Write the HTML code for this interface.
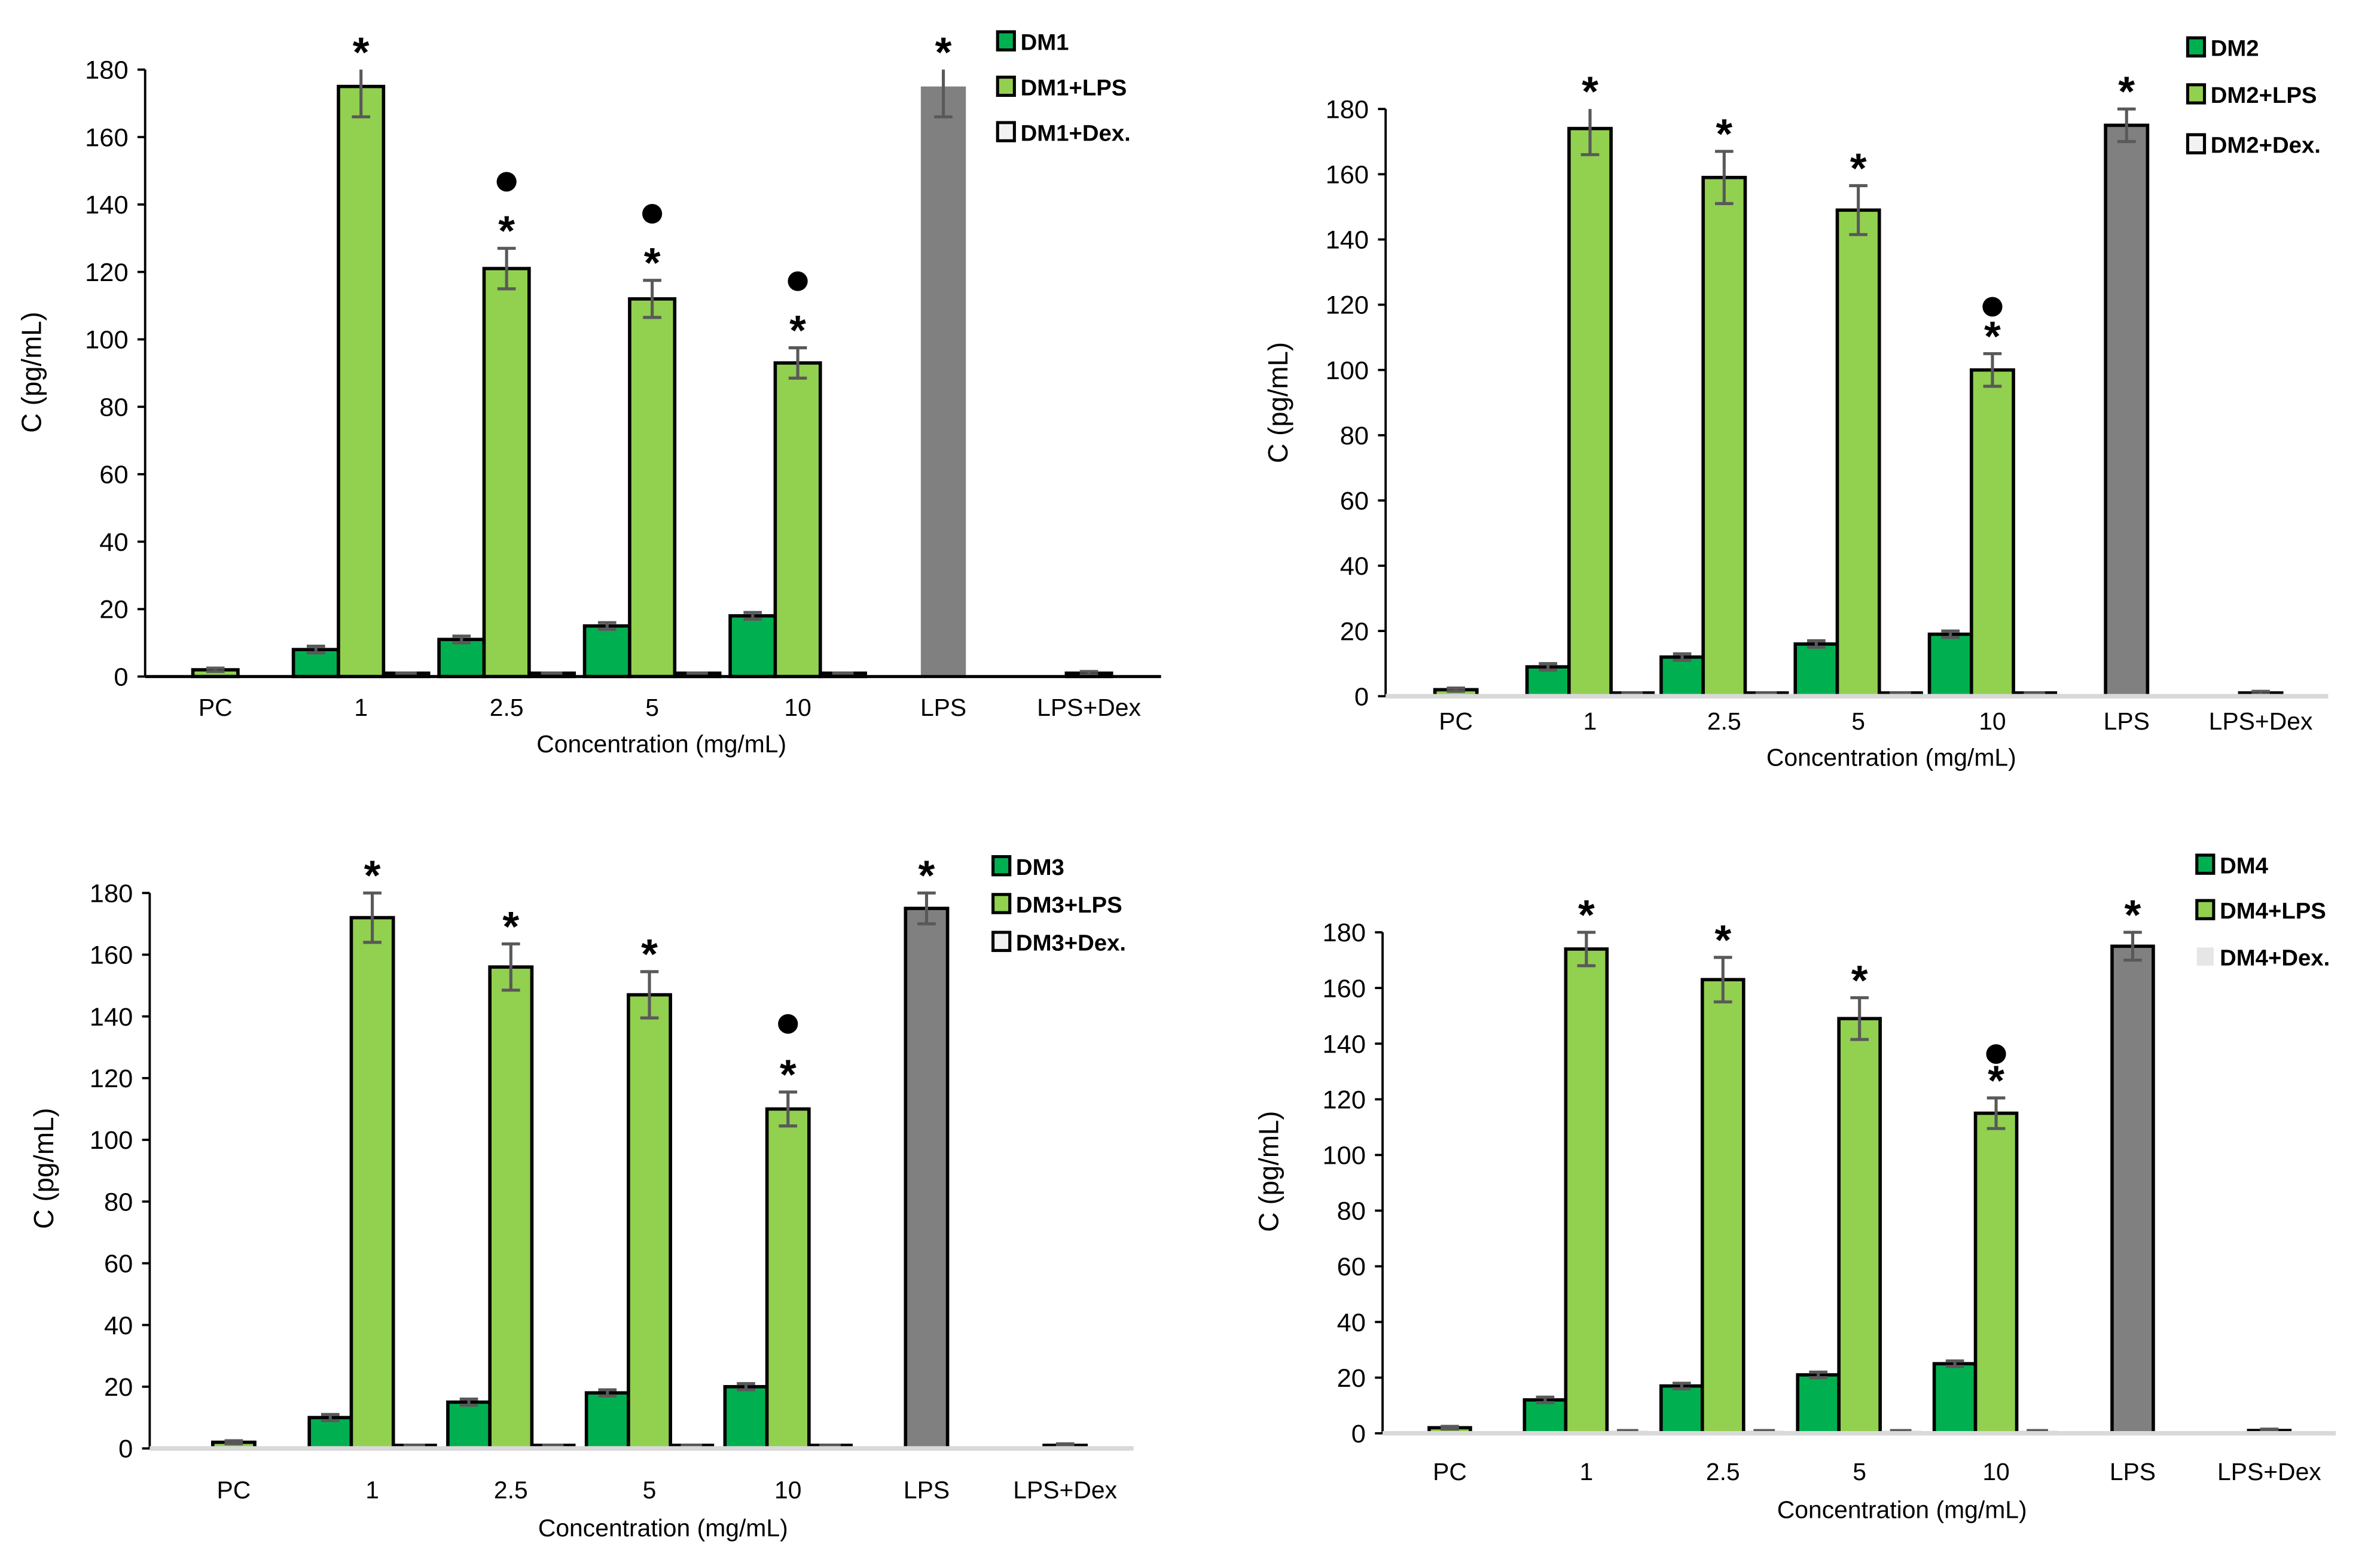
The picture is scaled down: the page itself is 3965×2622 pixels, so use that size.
<!DOCTYPE html>
<html><head><meta charset="utf-8"><style>
html,body{margin:0;padding:0;background:#fff;}
svg{display:block;}
text{font-family:"Liberation Sans",sans-serif;}
</style></head><body>
<svg id="chart" xmlns="http://www.w3.org/2000/svg" width="3965" height="2622" viewBox="0 0 1552 1036" preserveAspectRatio="none"></svg>
<script>
const categories = ["PC","1","2.5","5","10","LPS","LPS+Dex"];
const yTicks = [0,20,40,60,80,100,120,140,160,180];
// Panel 1 (DM1)
const dm1Values    = [null,8,11,15,18,null,null];
const dm1LpsValues = [2,175,121,112,93,175,1];
const dm1DexValues = [null,1,1,1,1,null,null];
const dm1LpsErrors = [0.5,9,6,5.5,4.5,9,0.5];
const dm1Errors    = [0,1,1,1,1,0,0];
const dm1Stars = [false,true,true,true,true,true,false];
const dm1Dots  = [false,false,true,true,true,false,false];
// Panel 2 (DM2)
const dm2Values    = [null,9,12,16,19,null,null];
const dm2LpsValues = [2,174,159,149,100,175,1];
const dm2DexValues = [null,1,1,1,1,null,null];
const dm2LpsErrors = [0.5,8,8,7.5,5,5,0.5];
const dm2Errors    = [0,1,1,1,1,0,0];
const dm2Stars = [false,true,true,true,true,true,false];
const dm2Dots  = [false,false,false,false,true,false,false];
// Panel 3 (DM3)
const dm3Values    = [null,10,15,18,20,null,null];
const dm3LpsValues = [2,172,156,147,110,175,1];
const dm3DexValues = [null,1,1,1,1,null,null];
const dm3LpsErrors = [0.5,8,7.5,7.5,5.5,5,0.5];
const dm3Errors    = [0,1,1,1,1,0,0];
const dm3Stars = [false,true,true,true,true,true,false];
const dm3Dots  = [false,false,false,false,true,false,false];
// Panel 4 (DM4)
const dm4Values    = [null,12,17,21,25,null,null];
const dm4LpsValues = [2,174,163,149,115,175,1];
const dm4DexValues = [null,1,1,1,1,null,null];
const dm4LpsErrors = [0.5,6,8,7.5,5.5,5,0.5];
const dm4Errors    = [0,1,1,1,1,0,0];
const dm4Stars = [false,true,true,true,true,true,false];
const dm4Dots  = [false,false,false,false,true,false,false];

const NS="http://www.w3.org/2000/svg";
const svg=document.getElementById('chart');
function mk(tag,attrs,parent){const e=document.createElementNS(NS,tag);for(const k in attrs)e.setAttribute(k,attrs[k]);parent.appendChild(e);return e;}

const panels=[
 {name:'DM1',dm:dm1Values,lps:dm1LpsValues,dex:dm1DexValues,err:dm1LpsErrors,derr:dm1Errors,stars:dm1Stars,dots:dm1Dots,
  ax:95,y0:447,y180:46,xEnd:760,c0:141,sp:95.3,slot:29.5,labelY:473,tx:433,ty:497,ytx:22,yty:246,lx:653,ly:[27,57,87],dotGap:30,axisCol:'#000',axisW:2,lpsOutline:false,dexLegend:'white'},
 {name:'DM2',dm:dm2Values,lps:dm2LpsValues,dex:dm2DexValues,err:dm2LpsErrors,derr:dm2Errors,stars:dm2Stars,dots:dm2Dots,
  ax:907,y0:460,y180:72,xEnd:1524,c0:953,sp:87.8,slot:27.5,labelY:482,tx:1238,ty:506,ytx:838,yty:266,lx:1432,ly:[31,62,95],dotGap:17,axisCol:'#d9d9d9',axisW:3,lpsOutline:true,dexLegend:'white'},
 {name:'DM3',dm:dm3Values,lps:dm3LpsValues,dex:dm3DexValues,err:dm3LpsErrors,derr:dm3Errors,stars:dm3Stars,dots:dm3Dots,
  ax:98,y0:957,y180:590,xEnd:742,c0:153,sp:90.7,slot:27.5,labelY:990,tx:434,ty:1015,ytx:30,yty:772,lx:650,ly:[572,597,622],dotGap:31,axisCol:'#d9d9d9',axisW:3,lpsOutline:true,dexLegend:'white'},
 {name:'DM4',dm:dm4Values,lps:dm4LpsValues,dex:dm4DexValues,err:dm4LpsErrors,derr:dm4Errors,stars:dm4Stars,dots:dm4Dots,
  ax:905,y0:947,y180:616,xEnd:1529,c0:949,sp:89.4,slot:27,labelY:978,tx:1245,ty:1003,ytx:832,yty:774,lx:1438,ly:[571,601,632],dotGap:15,axisCol:'#d9d9d9',axisW:3,lpsOutline:true,dexLegend:'gray'}
];

panels.forEach((p,pi)=>{
  const g=mk('g',{},svg);
  
  
  const y=v=>p.y0-(v/180)*(p.y0-p.y180);
  const xc=i=>p.c0+i*p.sp;
  const ya=mk('line',{x1:p.ax,y1:p.y180,x2:p.ax,y2:p.y0,stroke:'#000','stroke-width':1.5},g);
  
  
  yTicks.forEach(t=>{
    mk('line',{x1:p.ax-5,y1:y(t),x2:p.ax,y2:y(t),stroke:'#000','stroke-width':1.5},g);
    const tl=mk('text',{x:p.ax-11,y:y(t)+6,'text-anchor':'end','font-size':17,fill:'#000'},g);
    tl.textContent=t;
    
    
  });
  const yt=mk('text',{x:p.ytx,y:p.yty,'text-anchor':'middle','font-size':18,fill:'#000',transform:`rotate(-90 ${p.ytx} ${p.yty})`,'dominant-baseline':'middle'},g);
  yt.textContent='C (pg/mL)';
  
  
  const bar=(x,v,fill,outline,name)=>{
    const r=mk('rect',{x:x,y:y(v),width:p.slot,height:p.y0-y(v),fill:fill,stroke:outline?'#000':'none','stroke-width':outline?2.2:0},g);
    
    
  };
  const err=(x,v,e)=>{
    if(!e)return;
    const cx=x+p.slot/2;
    const hi=Math.min(180,v+e);
    mk('line',{x1:cx,y1:y(hi),x2:cx,y2:y(v-e),stroke:'#595959','stroke-width':2},g);
    if(v+e<=180) mk('line',{x1:cx-6,y1:y(hi),x2:cx+6,y2:y(hi),stroke:'#595959','stroke-width':2},g);
    mk('line',{x1:cx-6,y1:y(v-e),x2:cx+6,y2:y(v-e),stroke:'#595959','stroke-width':2},g);
  };
  categories.forEach((c,i)=>{
    const cx=xc(i);
    const xm=cx-p.slot/2, xl=xm-p.slot, xr=xm+p.slot;
    if(p.dm[i]!=null){bar(xl,p.dm[i],'#00b050',true,'bar-'+p.name.toLowerCase()+'-'+c);err(xl,p.dm[i],p.derr[i]);}
    if(p.dex[i]!=null){
      if(p.dexLegend==='gray'){bar(xr,p.dex[i],'#e7e6e6',false,'bar-dex-'+c);}
      else bar(xr,p.dex[i],'#d9d9d9',true,'bar-dex-'+c);
      mk('line',{x1:xr+p.slot/2-7,y1:y(p.dex[i]),x2:xr+p.slot/2+7,y2:y(p.dex[i]),stroke:'#595959','stroke-width':2},g);
    }
    if(p.lps[i]!=null){
      let fill='#92d050',out=true;
      if(i===5){fill='#808080';out=p.lpsOutline;}
      if(i===6){fill='#808080';}
      bar(xm,p.lps[i],fill,out,'bar-lps-'+c);
      err(xm,p.lps[i],p.err[i]);
      const top=y(Math.min(180,p.lps[i]+p.err[i]));
      if(p.stars[i]){
        const s=mk('text',{x:cx,y:top-2,'text-anchor':'middle','font-size':28,'font-weight':'bold',fill:'#000'},g);
        s.textContent='*';
        
        
      }
      if(p.dots[i]){
        const d=mk('circle',{cx:cx,cy:top-14-p.dotGap,r:6.5,fill:'#000'},g);
        
        
      }
    }
    const cl=mk('text',{x:cx,y:p.labelY,'text-anchor':'middle','font-size':16,fill:'#000'},g);
    cl.textContent=c;
    
    
  });
  const xa=mk('line',{x1:p.ax,y1:p.y0,x2:p.xEnd,y2:p.y0,stroke:p.axisCol,'stroke-width':p.axisW},g);
  
  
  const xt=mk('text',{x:p.tx,y:p.ty,'text-anchor':'middle','font-size':16,fill:'#000'},g);
  xt.textContent='Concentration (mg/mL)';
  
  
  const labels=[p.name,p.name+'+LPS',p.name+'+Dex.'];
  const fills=['#00b050','#92d050',p.dexLegend==='gray'?'#e7e6e6':'#f2f2f2'];
  labels.forEach((l,k)=>{
    const ly=p.ly[k];
    const noOut=(k===2&&p.dexLegend==='gray');
    const r=mk('rect',{x:p.lx,y:ly-6,width:11,height:12,fill:fills[k],stroke:noOut?'none':'#000','stroke-width':2},g);
    
    
    const t=mk('text',{x:p.lx+15,y:ly+6,'font-size':15,'font-weight':'bold',fill:'#000'},g);
    t.textContent=l;
    
    
  });
});
</script>
</body></html>
